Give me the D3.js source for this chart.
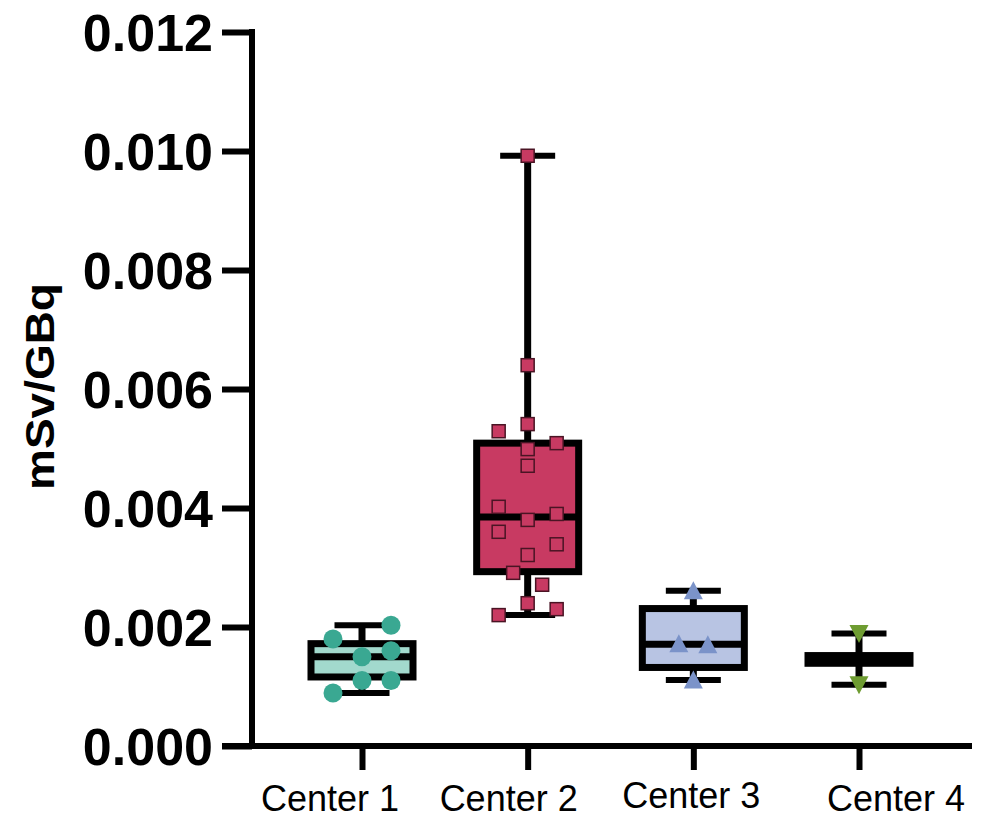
<!DOCTYPE html>
<html>
<head>
<meta charset="utf-8">
<script src="https://cdn.jsdelivr.net/npm/d3@7"></script>
<style>
  html, body { margin: 0; padding: 0; background: #fff; }
  svg { display: block; }
</style>
</head>
<body>
<svg id="chart" width="982" height="819"></svg>
<script>
// ---------- data ----------
const categories = ["Center 1", "Center 2", "Center 3", "Center 4"];
const yTicks = [0.000, 0.002, 0.004, 0.006, 0.008, 0.010, 0.012];
const yLabel = "mSv/GBq";

// box statistics: [min, Q1, median, Q3, max]
const boxStats = [
  [0.00089, 0.00116, 0.00150, 0.00172, 0.00203],
  [0.00220, 0.00293, 0.00385, 0.00509, 0.00992],
  [0.00111, 0.00132, 0.00171, 0.00231, 0.00261],
  [0.00103, 0.00139, 0.00145, 0.00152, 0.00189]
];

// individual points per center, with a jitter column (-1, 0, 1)
const center1Values = [0.00203, 0.00180, 0.00160, 0.00150, 0.00110, 0.00110, 0.00089];
const center1Jitter = [1, -1, 1, 0, 0, 1, -1];
const center2Values = [0.00992, 0.00640, 0.00541, 0.00529, 0.00509, 0.00499, 0.00471, 0.00402,
                       0.00390, 0.00380, 0.00360, 0.00339, 0.00321, 0.00291, 0.00271, 0.00240,
                       0.00230, 0.00220];
const center2Jitter = [0, 0, 0, -1, 1, 0, 0, -1, 1, 0, -1, 1, 0, -0.5, 0.5, 0, 1, -1];
const center3Values = [0.00261, 0.00172, 0.00170, 0.00111];
const center3Jitter = [0, -0.5, 0.5, 0];
const center4Values = [0.00189, 0.00103];
const center4Jitter = [0, 0];

const pointValues = [center1Values, center2Values, center3Values, center4Values];
const pointJitter = [center1Jitter, center2Jitter, center3Jitter, center4Jitter];

// ---------- styles ----------
const boxFill   = ["#a2d9cd", "#c83a62", "#b8c4e3", "#000000"];
const markFill  = ["#3aa892", "#c83a62", "#7b93c9", "#6e9c31"];
const markStroke= ["none", "#4a1424", "none", "none"];
const markShape = ["circle", "square", "triangleUp", "triangleDown"];

const svg = d3.select("#chart");
const FONT = "'Liberation Sans', Arial, Helvetica, sans-serif";

const y = d3.scaleLinear().domain([0, 0.012]).range([746, 32]);
const x = d3.scalePoint().domain(categories).range([362, 859]);

const axisX0 = 252, axisY0 = 746;

// ---------- y axis ----------
const yAxis = d3.axisLeft(y).tickValues(yTicks).tickSize(30).tickSizeOuter(0)
  .tickPadding(9).tickFormat(d3.format(".3f"));
const gy = svg.append("g").attr("transform", `translate(${axisX0},0)`).call(yAxis);
gy.select(".domain").remove();
gy.selectAll(".tick line").attr("stroke", "#000").attr("stroke-width", 6);
gy.selectAll(".tick text")
  .attr("font-family", FONT).attr("font-weight", "bold").attr("font-size", 52)
  .attr("fill", "#000").attr("dy", "0.355em");
svg.append("line")
  .attr("x1", axisX0).attr("x2", axisX0)
  .attr("y1", y(0.012) - 3).attr("y2", axisY0 + 3)
  .attr("stroke", "#000").attr("stroke-width", 6);

// ---------- x axis ----------
const xAxis = d3.axisBottom(x).tickSize(24).tickSizeOuter(0).tickFormat("");
const gx = svg.append("g").attr("transform", `translate(0,${axisY0})`).call(xAxis);
gx.select(".domain").remove();
gx.selectAll(".tick line").attr("stroke", "#000").attr("stroke-width", 6);
svg.append("line")
  .attr("x1", 222).attr("x2", 972)
  .attr("y1", axisY0).attr("y2", axisY0)
  .attr("stroke", "#000").attr("stroke-width", 6);

const labelDx = [-32, -19, -2, 37];
const labelDy = [65, 65, 62, 65];
svg.append("g").selectAll("text").data(categories).join("text")
  .attr("x", (d, i) => x(d) + labelDx[i])
  .attr("y", (d, i) => axisY0 + labelDy[i])
  .attr("text-anchor", "middle")
  .attr("font-family", FONT).attr("font-size", 36).attr("fill", "#000")
  .text(d => d);

// y label (slightly stretched along its length, as in the reference)
const yl = svg.append("g");
const ylText = yl.append("text")
  .attr("x", 0).attr("y", 0)
  .attr("text-anchor", "middle")
  .attr("font-family", FONT).attr("font-weight", "bold").attr("font-size", 41)
  .attr("fill", "#000")
  .text(yLabel);
const ylLen = ylText.node().getComputedTextLength();
yl.attr("transform", `translate(54,386.5) rotate(-90) scale(${ylLen > 0 ? 207 / ylLen : 1},1)`);

// ---------- boxes ----------
const boxW = 102, capW = 55, strokeW = 7;
categories.forEach((cat, i) => {
  const cx = x(cat);
  const [mn, q1, md, q3, mx] = boxStats[i];
  const g = svg.append("g");
  // whiskers
  g.append("line").attr("x1", cx).attr("x2", cx).attr("y1", y(q3)).attr("y2", y(mx))
    .attr("stroke", "#000").attr("stroke-width", strokeW);
  g.append("line").attr("x1", cx).attr("x2", cx).attr("y1", y(q1)).attr("y2", y(mn))
    .attr("stroke", "#000").attr("stroke-width", strokeW);
  // caps
  [mn, mx].forEach(v => {
    g.append("line").attr("x1", cx - capW / 2).attr("x2", cx + capW / 2)
      .attr("y1", y(v)).attr("y2", y(v))
      .attr("stroke", "#000").attr("stroke-width", 6);
  });
  // box
  g.append("rect")
    .attr("x", cx - boxW / 2).attr("width", boxW)
    .attr("y", y(q3)).attr("height", y(q1) - y(q3))
    .attr("fill", boxFill[i]).attr("stroke", "#000").attr("stroke-width", strokeW);
  // median
  g.append("line").attr("x1", cx - boxW / 2).attr("x2", cx + boxW / 2)
    .attr("y1", y(md)).attr("y2", y(md))
    .attr("stroke", "#000").attr("stroke-width", strokeW);

  // points
  const jitterStep = 29;
  pointValues[i].forEach((v, k) => {
    const px = cx + pointJitter[i][k] * jitterStep;
    const py = y(v);
    const shape = markShape[i];
    if (shape === "circle") {
      g.append("circle").attr("cx", px).attr("cy", py).attr("r", 9.5)
        .attr("fill", markFill[i]);
    } else if (shape === "square") {
      const s = 13;
      g.append("rect").attr("x", px - s / 2).attr("y", py - s / 2)
        .attr("width", s).attr("height", s)
        .attr("fill", markFill[i]).attr("stroke", markStroke[i]).attr("stroke-width", 1.5);
    } else if (shape === "triangleUp") {
      const w = 19, h = 17;
      g.append("path")
        .attr("d", `M${px},${py - h / 2 - 1}L${px + w / 2},${py + h / 2}L${px - w / 2},${py + h / 2}Z`)
        .attr("fill", markFill[i]);
    } else {
      const w = 19, h = 17;
      g.append("path")
        .attr("d", `M${px - w / 2},${py - h / 2}L${px + w / 2},${py - h / 2}L${px},${py + h / 2 + 1}Z`)
        .attr("fill", markFill[i]);
    }
  });
});
</script>
</body>
</html>
